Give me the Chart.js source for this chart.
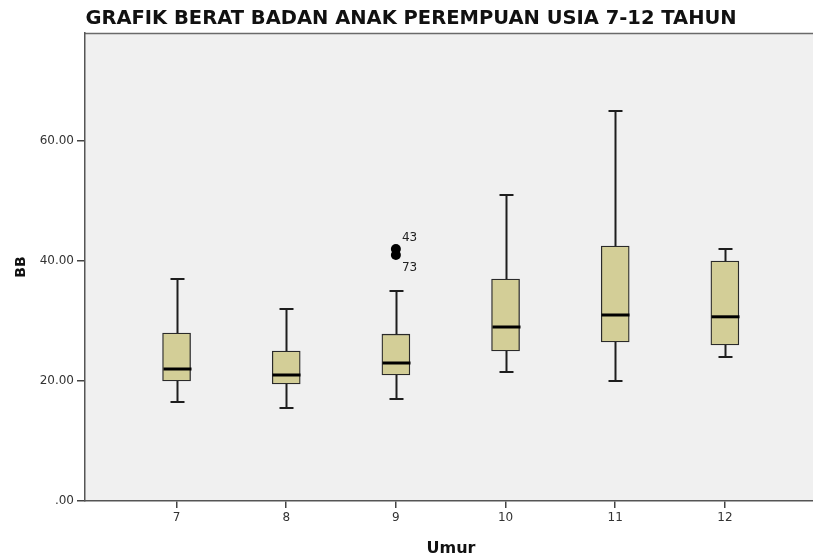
<!DOCTYPE html>
<html>
<head>
<meta charset="utf-8">
<script src="https://cdn.jsdelivr.net/npm/chart.js@4.4.1/dist/chart.umd.min.js"></script>
<style>
  html, body { margin: 0; padding: 0; background: #ffffff; }
  #wrap { width: 813px; height: 558px; overflow: hidden; position: relative; }
  canvas { display: block; }
</style>
</head>
<body>
<div id="wrap"><canvas id="chart" width="822" height="558"></canvas></div>
<script>
// Age groups (years) and the five-number summary of body weight (kg) per group
const ages         = [7, 8, 9, 10, 11, 12];
const whiskerLow   = [16.5, 15.5, 17, 21.5, 20, 24];
const quartile1    = [20, 19.5, 21, 25, 26.5, 26];
const medians      = [22, 21, 23, 29, 31, 30.7];
const quartile3    = [28, 25, 27.8, 37, 42.5, 40];
const whiskerHigh  = [37, 32, 35, 51, 65, 42];

// Outlying cases, with their case numbers
const outlierAge   = [9, 9];
const outlierValue = [42, 41];
const outlierCase  = ['43', '73'];

// Axis ticks
const yTicks = [0, 20, 40, 60];
const xTicks = ages;

const BOX_WIDTH = 28;
const CAP_WIDTH = 14;

const plotBackground = {
  id: 'plotBackground',
  beforeDraw(chart) {
    const { ctx, chartArea: a } = chart;
    ctx.save();
    ctx.fillStyle = '#f0f0f0';
    ctx.fillRect(a.left, a.top, a.right - a.left, a.bottom - a.top);
    ctx.strokeStyle = '#6a6a6a';
    ctx.lineWidth = 1.5;
    ctx.beginPath();
    ctx.moveTo(a.left, a.top + 0.5);
    ctx.lineTo(a.right, a.top + 0.5);
    ctx.stroke();
    ctx.restore();
  }
};

const whiskersAndMedians = {
  id: 'whiskersAndMedians',
  afterDatasetsDraw(chart) {
    const { ctx, scales: { x, y } } = chart;
    ctx.save();
    ages.forEach((age, i) => {
      const cx = Math.round(x.getPixelForValue(age)) + 0.5;
      const yHi = y.getPixelForValue(whiskerHigh[i]);
      const yQ3 = y.getPixelForValue(quartile3[i]);
      const yQ1 = y.getPixelForValue(quartile1[i]);
      const yLo = y.getPixelForValue(whiskerLow[i]);
      const yMed = y.getPixelForValue(medians[i]);
      ctx.strokeStyle = '#1e1e1e';
      ctx.lineWidth = 2;
      ctx.beginPath();
      ctx.moveTo(cx, yHi); ctx.lineTo(cx, yQ3);
      ctx.moveTo(cx, yQ1); ctx.lineTo(cx, yLo);
      ctx.moveTo(cx - CAP_WIDTH / 2, yHi); ctx.lineTo(cx + CAP_WIDTH / 2, yHi);
      ctx.moveTo(cx - CAP_WIDTH / 2, yLo); ctx.lineTo(cx + CAP_WIDTH / 2, yLo);
      ctx.stroke();
      ctx.strokeStyle = '#000000';
      ctx.lineWidth = 3;
      ctx.beginPath();
      ctx.moveTo(cx - BOX_WIDTH / 2, yMed); ctx.lineTo(cx + BOX_WIDTH / 2, yMed);
      ctx.stroke();
    });
    // case numbers beside the outliers
    ctx.fillStyle = '#222222';
    ctx.font = '12px "DejaVu Sans"';
    ctx.textAlign = 'left';
    ctx.textBaseline = 'middle';
    outlierAge.forEach((age, i) => {
      const px = x.getPixelForValue(age);
      const py = y.getPixelForValue(outlierValue[i]);
      const dy = i === 0 ? -11 : 13;
      ctx.fillText(outlierCase[i], px + 6, py + dy);
    });
    ctx.restore();
  }
};

new Chart(document.getElementById('chart'), {
  data: {
    datasets: [
      {
        type: 'bar',
        data: ages.map((a, i) => ({ x: a, y: [quartile1[i], quartile3[i]] })),
        backgroundColor: '#d3ce97',
        borderColor: '#2a2a2a',
        borderWidth: 1.3,
        borderSkipped: false,
        barThickness: BOX_WIDTH
      },
      {
        type: 'scatter',
        data: outlierAge.map((a, i) => ({ x: a, y: outlierValue[i] })),
        backgroundColor: '#000000',
        borderColor: '#000000',
        pointRadius: 5,
        pointBorderWidth: 0
      }
    ]
  },
  options: {
    responsive: false,
    animation: false,
    devicePixelRatio: 1,
    layout: { padding: 0 },
    plugins: {
      legend: { display: false },
      tooltip: { enabled: false },
      title: {
        display: true,
        text: 'GRAFIK BERAT BADAN ANAK PEREMPUAN USIA 7-12 TAHUN',
        color: '#111111',
        font: { family: '"DejaVu Sans"', size: 19.5, weight: 'bold', lineHeight: 1.2 },
        padding: { top: 7.5, bottom: 2.1 }
      }
    },
    scales: {
      x: {
        type: 'linear',
        offset: false,
        min: 6.165,
        max: 12.84,
        afterBuildTicks(scale) { scale.ticks = xTicks.map(v => ({ value: v })); },
        afterFit(scale) { scale.height = 57; },
        ticks: {
          includeBounds: false,
          autoSkip: false,
          maxRotation: 0,
          padding: 3,
          color: '#333333',
          font: { family: '"DejaVu Sans"', size: 12 },
          callback: v => String(v)
        },
        grid: { offset: false, drawOnChartArea: false, drawTicks: true, tickLength: 7, color: '#444444', lineWidth: 1.5 },
        border: { display: true, color: '#555555', width: 1.5 },
        title: {
          display: true,
          text: 'Umur',
          color: '#111111',
          font: { family: '"DejaVu Sans"', size: 16, weight: 'bold', lineHeight: 1.2 },
          padding: { top: 2.4, bottom: 0 }
        }
      },
      y: {
        type: 'linear',
        min: 0,
        max: 78,
        afterBuildTicks(scale) { scale.ticks = yTicks.map(v => ({ value: v })); },
        afterFit(scale) { scale.width = 85; },
        ticks: {
          includeBounds: false,
          padding: 3,
          color: '#333333',
          font: { family: '"DejaVu Sans"', size: 12 },
          callback: v => (v === 0 ? '.00' : v.toFixed(2))
        },
        grid: { drawOnChartArea: false, drawTicks: true, tickLength: 8, color: '#444444', lineWidth: 1.5 },
        border: { display: true, color: '#555555', width: 1.5 },
        title: {
          display: true,
          text: 'BB',
          color: '#111111',
          font: { family: '"DejaVu Sans"', size: 14, weight: 'bold', lineHeight: 1.2 },
          padding: { top: 12.6, bottom: 0 }
        }
      }
    }
  },
  plugins: [plotBackground, whiskersAndMedians]
});
</script>
</body>
</html>
